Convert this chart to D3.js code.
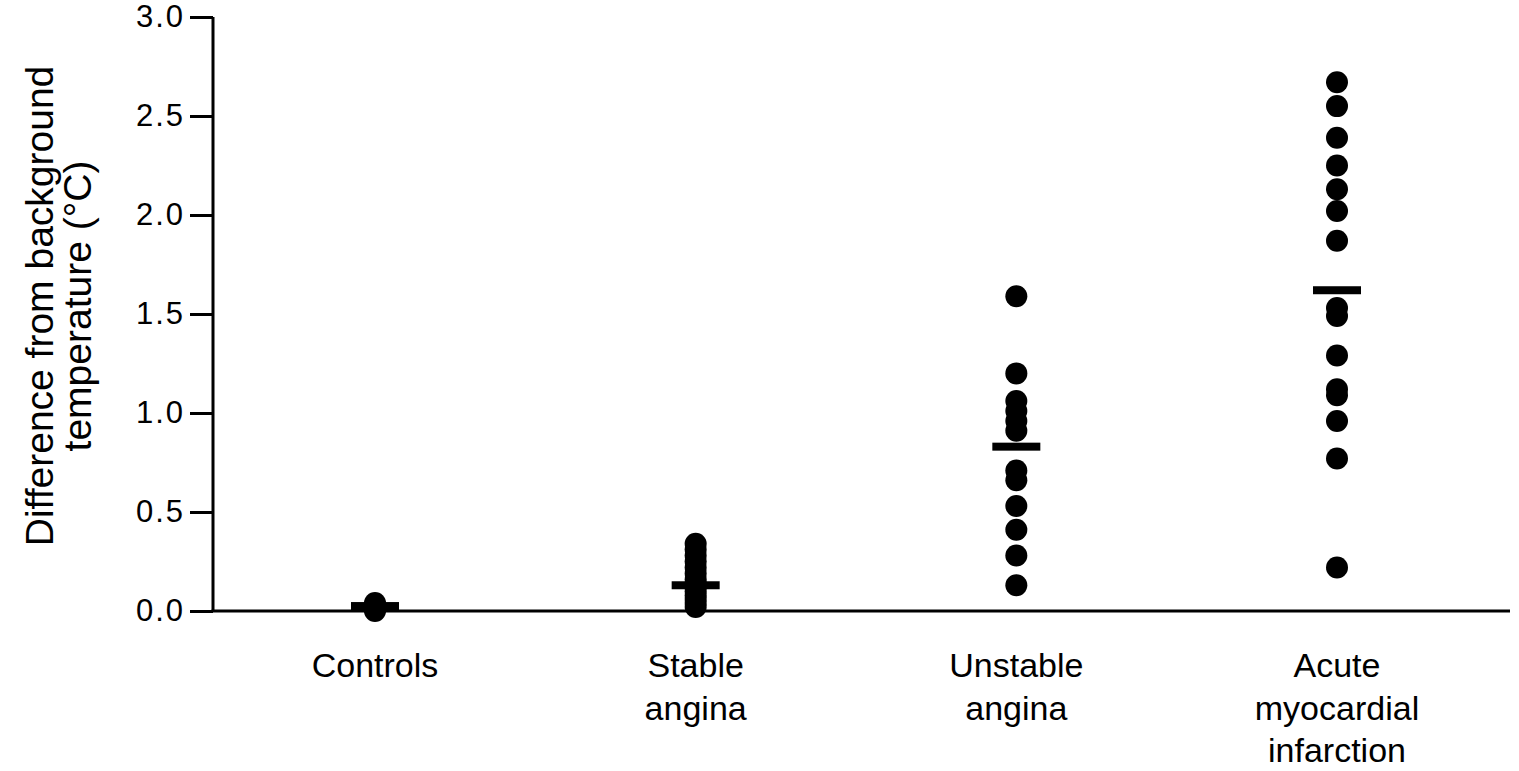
<!DOCTYPE html>
<html><head><meta charset="utf-8">
<script src="https://cdn.jsdelivr.net/npm/d3@7"></script>
<style>
html,body{margin:0;padding:0;background:#fff;}
text{font-family:"Liberation Sans",Arial,sans-serif;fill:#000;}
</style></head>
<body><svg id="c" width="1519" height="771"></svg>
<script>
const categories = ["Controls", "Stable angina", "Unstable angina", "Acute myocardial infarction"];
const categoryLines = [["Controls"], ["Stable", "angina"], ["Unstable", "angina"], ["Acute", "myocardial", "infarction"]];
const controlsValues = [0.0, 0.01, 0.02, 0.03, 0.04];
const stableValues = [0.02, 0.04, 0.06, 0.08, 0.1, 0.12, 0.14, 0.16, 0.19, 0.22, 0.25, 0.28, 0.31, 0.34];
const unstableValues = [1.59, 1.2, 1.06, 1.01, 0.96, 0.91, 0.71, 0.66, 0.53, 0.41, 0.28, 0.13];
const amiValues = [2.67, 2.55, 2.39, 2.25, 2.13, 2.02, 1.87, 1.53, 1.49, 1.29, 1.12, 1.09, 0.96, 0.77, 0.22];
const medians = [0.025, 0.13, 0.83, 1.62];
const yTicks = [0, 0.5, 1.0, 1.5, 2.0, 2.5, 3.0];
const yTitle = ["Difference from background", "temperature (°C)"];

const series = [controlsValues, stableValues, unstableValues, amiValues];
const svg = d3.select("#c");
const x = d3.scalePoint().domain(categories).range([375, 1337]);
const y = d3.scaleLinear().domain([0, 3]).range([611, 17]);
const axisX0 = 213;

// y axis
const gy = svg.append("g").attr("transform", `translate(${axisX0},0)`)
  .call(d3.axisLeft(y).tickValues(yTicks).tickFormat(d3.format(".1f")).tickSize(23).tickPadding(5));
gy.select(".domain").attr("stroke", "#000").attr("stroke-width", 3).attr("d", `M0,${y(3)}V${y(0)}`);
gy.selectAll(".tick line").attr("stroke", "#000").attr("stroke-width", 3);
gy.selectAll(".tick text").style("font-size", "31px").style("letter-spacing", "2px")
  .style("font-family", '"Liberation Sans",Arial,sans-serif').attr("fill", "#000");

// x axis line
svg.append("line").attr("x1", axisX0 - 1.5).attr("x2", 1510).attr("y1", y(0)).attr("y2", y(0))
  .attr("stroke", "#000").attr("stroke-width", 3);

// category labels
categories.forEach((c, i) => {
  const t = svg.append("text").attr("text-anchor", "middle").style("font-size", "34px");
  categoryLines[i].forEach((ln, j) => {
    t.append("tspan").attr("x", x(c)).attr("y", 677 + j * 42.5).text(ln);
  });
});

// y title
const yt = svg.append("text").attr("transform", `translate(53,306) rotate(-90)`).attr("text-anchor", "middle").style("font-size", "39px");
yTitle.forEach((ln, j) => yt.append("tspan").attr("x", 0).attr("y", j * 38).text(ln));

// dots
series.forEach((vals, i) => {
  svg.append("g").selectAll("circle").data(vals).join("circle")
    .attr("cx", x(categories[i])).attr("cy", d => y(d)).attr("r", 11).attr("fill", "#000");
});

// median bars
svg.append("g").selectAll("rect").data(medians).join("rect")
  .attr("x", (d, i) => x(categories[i]) - 24).attr("y", d => y(d) - 4)
  .attr("width", 48).attr("height", 8).attr("fill", "#000");
</script></body></html>
